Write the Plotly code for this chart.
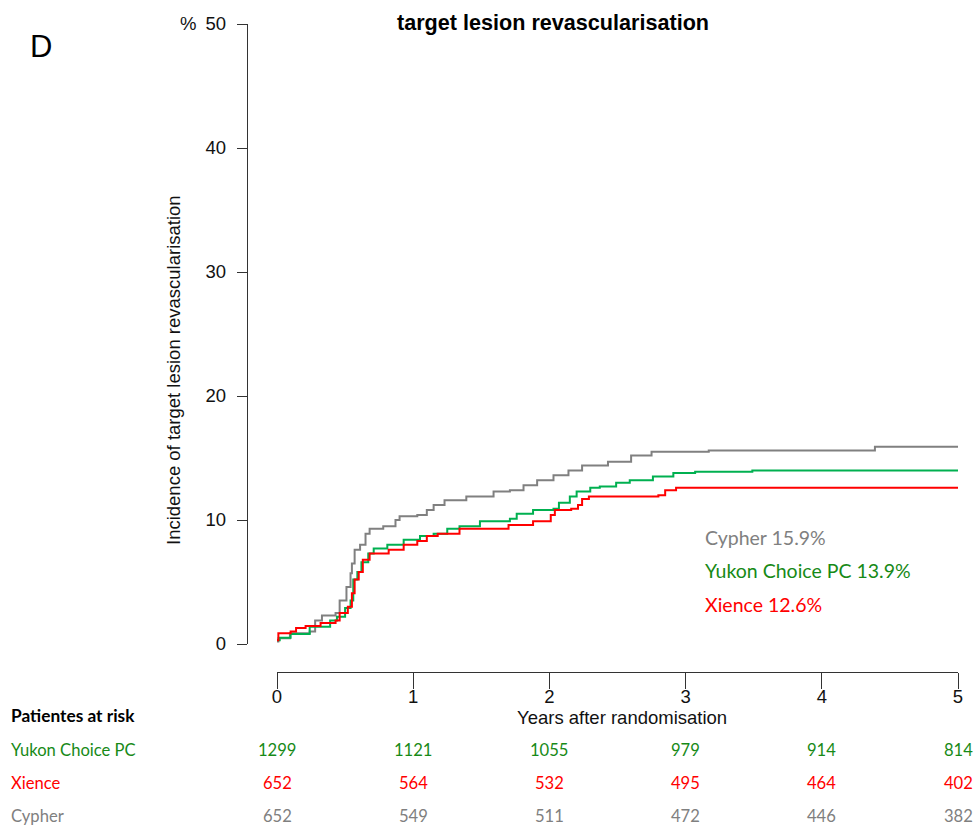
import plotly.graph_objects as go

W, H = 980, 825

# ---- data ----
cypher_t = [0.0, 0.01, 0.095, 0.24, 0.28, 0.33, 0.43, 0.46, 0.51, 0.54, 0.55, 0.57, 0.61, 0.65, 0.68,
            0.78, 0.87, 0.90, 1.03, 1.10, 1.15, 1.23, 1.39, 1.59, 1.71, 1.81, 1.91, 2.03, 2.14, 2.24,
            2.43, 2.60, 2.75, 3.17, 4.39, 5.0]
cypher_y = [0.2, 0.46, 0.86, 1.0, 1.9, 2.3, 2.5, 3.5, 4.6, 5.7, 6.5, 7.6, 8.0, 8.9, 9.3,
            9.5, 10.0, 10.3, 10.4, 10.8, 11.2, 11.6, 11.9, 12.3, 12.4, 12.8, 13.2, 13.6, 14.0, 14.4,
            14.7, 15.2, 15.5, 15.6, 15.9, 15.9]

yukon_t = [0.0, 0.02, 0.10, 0.24, 0.39, 0.44, 0.50, 0.54, 0.56, 0.59, 0.62, 0.67, 0.71, 0.81, 0.93,
           1.05, 1.15, 1.25, 1.34, 1.49, 1.71, 1.76, 1.88, 2.03, 2.07, 2.15, 2.20, 2.30, 2.37, 2.49,
           2.59, 2.76, 2.91, 3.07, 3.49, 5.0]
yukon_y = [0.3, 0.5, 0.8, 1.4, 1.9, 2.2, 2.9, 3.5, 5.2, 5.8, 6.6, 7.3, 7.7, 8.0, 8.4,
           8.7, 8.9, 9.3, 9.5, 9.9, 10.1, 10.5, 10.8, 10.9, 11.4, 11.9, 12.3, 12.6, 12.7, 13.0,
           13.2, 13.5, 13.8, 13.9, 14.0, 14.0]

xience_t = [0.0, 0.01, 0.10, 0.14, 0.21, 0.32, 0.43, 0.46, 0.52, 0.55, 0.57, 0.60, 0.63, 0.68, 0.82,
            0.93, 1.03, 1.10, 1.18, 1.34, 1.70, 1.88, 2.01, 2.04, 2.16, 2.21, 2.24, 2.29, 2.80, 2.85,
            2.93, 5.0]
xience_y = [0.3, 0.86, 1.0, 1.3, 1.45, 1.7, 1.9, 2.5, 3.0, 4.1, 5.2, 5.8, 6.8, 7.3, 7.6,
            8.0, 8.3, 8.7, 8.9, 9.3, 9.6, 9.9, 10.4, 10.8, 10.9, 11.2, 11.7, 11.9, 12.0, 12.4,
            12.6, 12.6]

years = [0, 1, 2, 3, 4, 5]
y_ticks = [0, 10, 20, 30, 40, 50]
risk_groups = ["Yukon Choice PC", "Xience", "Cypher"]
risk_yukon = [1299, 1121, 1055, 979, 914, 814]
risk_xience = [652, 564, 532, 495, 464, 402]
risk_cypher = [652, 549, 511, 472, 446, 382]
final_labels = ["Cypher 15.9%", "Yukon Choice PC 13.9%", "Xience 12.6%"]

# ---- styling ----
GRAY_LINE = "#808080"
GREEN_LINE = "#00b050"
RED_LINE = "#ff0000"
GRAY_TXT = "#808080"
GREEN_TXT = "#178a17"
RED_TXT = "#ff0000"
AX_FONT = "Liberation Sans, Arial, sans-serif"
TAB_FONT = "Lato, Open Sans, sans-serif"
TICK_SIZE = 18.5


def px(x):
    return x / W


def py(y):
    return 1 - y / H


fig = go.Figure()
for t, v, c, n in [(cypher_t, cypher_y, GRAY_LINE, "Cypher"),
                   (yukon_t, yukon_y, GREEN_LINE, "Yukon Choice PC"),
                   (xience_t, xience_y, RED_LINE, "Xience")]:
    fig.add_trace(go.Scatter(x=t, y=v, mode="lines", name=n,
                             line=dict(color=c, width=2, shape="hv"),
                             showlegend=False, hoverinfo="skip"))

fig.update_layout(
    width=W, height=H,
    margin=dict(l=0, r=0, t=0, b=0, pad=0, autoexpand=False),
    paper_bgcolor="white", plot_bgcolor="white",
    xaxis=dict(domain=[px(277), px(958)], range=[0, 5], anchor="free", position=py(672),
               automargin=False,
               tickvals=years, ticktext=[str(v) for v in years],
               showline=True, linecolor="#333333", linewidth=1.3,
               ticks="outside", ticklen=16, tickwidth=1.3, tickcolor="#333333",
               ticklabelstandoff=-8,
               showgrid=False, zeroline=False,
               tickfont=dict(family=AX_FONT, size=TICK_SIZE, color="#111111")),
    yaxis=dict(domain=[py(644), py(24)], range=[0, 50], anchor="free", position=px(247),
               automargin=False,
               tickvals=y_ticks, ticktext=[str(v) for v in y_ticks],
               showline=True, linecolor="#333333", linewidth=1.3,
               ticks="outside", ticklen=10, tickwidth=1.3, tickcolor="#333333",
               ticklabelstandoff=7,
               showgrid=False, zeroline=False,
               tickfont=dict(family=AX_FONT, size=TICK_SIZE, color="#111111")),
)

ann = []
# panel letter
ann.append(dict(text="D", x=px(28), y=py(46), xref="paper", yref="paper", xanchor="left",
                yanchor="middle", showarrow=False, font=dict(family=AX_FONT, size=31, color="black")))
# title
ann.append(dict(text="<b>target lesion revascularisation</b>", x=px(553), y=py(23), xref="paper",
                yref="paper", xanchor="center", yanchor="middle", showarrow=False,
                font=dict(family=AX_FONT, size=21.6, color="black")))
# % sign
ann.append(dict(text="%", x=px(198), y=50, xref="paper", yref="y", xanchor="right", yanchor="middle",
                showarrow=False, font=dict(family=AX_FONT, size=TICK_SIZE, color="#111111")))
# y title
ann.append(dict(text="Incidence of target lesion revascularisation", x=px(173), y=py(370),
                xref="paper", yref="paper", xanchor="center", yanchor="middle", textangle=-90,
                showarrow=False, font=dict(family=AX_FONT, size=18.5, color="#111111")))
# x title
ann.append(dict(text="Years after randomisation", x=px(622), y=py(717), xref="paper", yref="paper",
                xanchor="center", yanchor="middle", showarrow=False,
                font=dict(family=AX_FONT, size=18.5, color="#111111")))
# final labels
for lab, col, yy in zip(final_labels, [GRAY_TXT, GREEN_TXT, RED_TXT], [537, 570, 604]):
    ann.append(dict(text=lab, x=px(703), y=py(yy), xref="paper", yref="paper", xanchor="left",
                    yanchor="middle", showarrow=False, font=dict(family=TAB_FONT, size=19.5, color=col)))
# at-risk table
ann.append(dict(text="<b>Patientes at risk</b>", x=px(9), y=py(715), xref="paper", yref="paper",
                xanchor="left", yanchor="middle", showarrow=False,
                font=dict(family=TAB_FONT, size=17.3, color="black")))
for grp, vals, col, yy in zip(risk_groups, [risk_yukon, risk_xience, risk_cypher],
                              [GREEN_TXT, RED_TXT, GRAY_TXT], [750, 783, 816]):
    ann.append(dict(text=grp, x=px(9), y=py(yy), xref="paper", yref="paper", xanchor="left",
                    yanchor="middle", showarrow=False, font=dict(family=TAB_FONT, size=16.6, color=col)))
    for yr, v in zip(years, vals):
        ann.append(dict(text=str(v), x=yr, y=py(yy), xref="x", yref="paper", xanchor="center",
                        yanchor="middle", showarrow=False,
                        font=dict(family=TAB_FONT, size=16.6, color=col)))

fig.update_layout(annotations=ann)
fig.write_html("out.html")
